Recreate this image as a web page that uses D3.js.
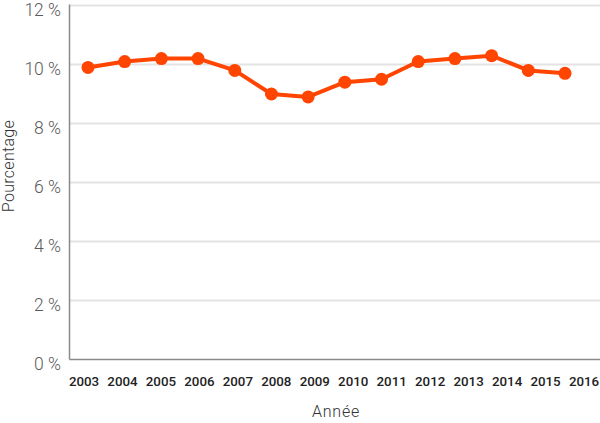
<!DOCTYPE html>
<html><head><meta charset="utf-8">
<script src="https://cdn.jsdelivr.net/npm/d3@7"></script>
<style>body{margin:0;background:#fff}svg{display:block}</style>
</head><body><svg id="c" width="600" height="423"></svg>
<script>
const years = ["2003","2004","2005","2006","2007","2008","2009","2010","2011","2012","2013","2014","2015","2016"];
const values = [9.9,10.1,10.2,10.2,9.8,9.0,8.9,9.4,9.5,10.1,10.2,10.3,9.8,9.7];
const yTicks = [0,2,4,6,8,10,12];
const yTitle = "Pourcentage";
const xTitle = "Année";

(function(){
const svg = d3.select("#c");
const mLeft = 69.5, mRight = 600, mTop = 5.5, mBottom = 359.5;
const y = d3.scaleLinear().domain([0,12]).range([mBottom, mTop]);
const xPts = d3.scalePoint().domain(years).range([88, 565]);
const xLab = d3.scalePoint().domain(years).range([84, 584]);

// gridlines
svg.append("g").selectAll("line").data(yTicks.filter(d=>d>0)).join("line")
  .attr("x1", mLeft).attr("x2", mRight).attr("y1", d=>y(d)).attr("y2", d=>y(d))
  .attr("stroke", "#e3e3e3").attr("stroke-width", 2);

// axes lines
svg.append("line").attr("x1", mLeft).attr("x2", mLeft).attr("y1", mTop-1).attr("y2", mBottom)
  .attr("stroke", "#8a8a8a").attr("stroke-width", 1.5);
svg.append("line").attr("x1", mLeft).attr("x2", mRight).attr("y1", mBottom).attr("y2", mBottom)
  .attr("stroke", "#8a8a8a").attr("stroke-width", 1.5);

// y tick labels
svg.append("g").selectAll("text").data(yTicks).join("text")
  .attr("x", 61).attr("y", d=>y(d) + 10.5).attr("text-anchor", "end")
  .attr("font-family", "Roboto").attr("font-weight", 300).attr("font-size", 17.5)
  .attr("fill", "#5a5a5a").text(d => d + " %");

// x tick labels
svg.append("g").selectAll("text").data(years).join("text")
  .attr("x", d=>xLab(d)).attr("y", 386).attr("text-anchor", "middle")
  .attr("font-family", "Roboto").attr("font-weight", 500).attr("font-size", 13.3)
  .attr("fill", "#222").text(d=>d);

// titles
svg.append("text").attr("transform", "translate(14,166) rotate(-90)").attr("text-anchor", "middle")
  .attr("font-family", "Roboto").attr("font-weight", 300).attr("font-size", 16)
  .attr("letter-spacing", 0.3).attr("fill", "#333").text(yTitle);
svg.append("text").attr("x", 336).attr("y", 416.5).attr("text-anchor", "middle")
  .attr("font-family", "Roboto").attr("font-weight", 300).attr("font-size", 16)
  .attr("letter-spacing", 0.8).attr("fill", "#333").text(xTitle);

// line
const data = years.map((yr,i)=>({yr, v: values[i]}));
svg.append("path").datum(data)
  .attr("d", d3.line().x(d=>xPts(d.yr)).y(d=>y(d.v)))
  .attr("fill", "none").attr("stroke", "#ff4500").attr("stroke-width", 4).attr("stroke-linejoin", "round");
svg.append("g").selectAll("circle").data(data).join("circle")
  .attr("cx", d=>xPts(d.yr)).attr("cy", d=>y(d.v)).attr("r", 6.5).attr("fill", "#ff4500");
})();
</script></body></html>
